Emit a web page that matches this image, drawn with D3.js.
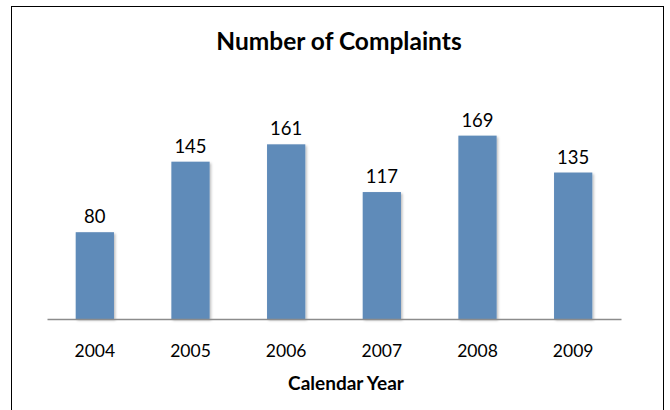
<!DOCTYPE html>
<html>
  <head>
    <script src="https://d3js.org/d3.v7.min.js"></script>
    <style>
      body { margin: 0; background: #fff; }
      text { font-family: Lato, Carlito, "Open Sans", sans-serif; fill: #000; }
    </style>
  </head>
  <body>
    <script>

      // chart data
      var years = ["2004", "2005", "2006", "2007", "2008", "2009"];
      var complaints = [80, 145, 161, 117, 169, 135];

      var W = 670, H = 410;
      var margin = {top: 102, right: 49, bottom: 91, left: 47};
      var w = W - margin.left - margin.right;
      var h = H - margin.top - margin.bottom;

      var svg = d3.select("body")
        .append("svg")
        .attr("width", W)
        .attr("height", H);

      // outer frame
      svg.append("rect")
        .attr("x", 11.5)
        .attr("y", 6.5)
        .attr("width", 652)
        .attr("height", 420)
        .attr("fill", "none")
        .attr("stroke", "#000")
        .attr("stroke-width", 1);

      var g = svg.append("g")
        .attr("transform", `translate(${margin.left},${margin.top})`);

      var x = d3.scaleBand()
        .domain(years)
        .range([0, w])
        .paddingInner(0.6)
        .paddingOuter(0.3);

      var y = d3.scaleLinear()
        .domain([0, 200])
        .range([h, 0]);

      var defs = svg.append("defs");
      var f = defs.append("filter").attr("id", "shadow")
        .attr("x", "-20%").attr("y", "-10%").attr("width", "150%").attr("height", "130%");
      f.append("feDropShadow")
        .attr("dx", 1.5).attr("dy", 1.5).attr("stdDeviation", 1.2)
        .attr("flood-color", "#000").attr("flood-opacity", 0.25);

      g.selectAll("rect.bar")
        .data(complaints)
        .enter()
        .append("rect")
        .attr("class", "bar")
        .attr("x", function(d, i) { return x(years[i]); })
        .attr("y", function(d) { return y(d); })
        .attr("width", x.bandwidth())
        .attr("height", function(d) { return h - y(d); })
        .attr("fill", "#5f8bb9")
        .attr("filter", "url(#shadow)");

      // value labels
      g.selectAll("text.val")
        .data(complaints)
        .enter()
        .append("text")
        .attr("class", "val")
        .attr("x", function(d, i) { return x(years[i]) + x.bandwidth() / 2; })
        .attr("y", function(d) { return y(d) - 9; })
        .attr("text-anchor", "middle")
        .style("font-size", "18.5px")
        .text(function(d) { return d; });

      // x axis
      var xAxis = d3.axisBottom(x).tickSize(0).tickPadding(26);
      var xAxisG = g.append("g")
        .attr("transform", `translate(0,${h})`)
        .call(xAxis);
      xAxisG.select(".domain").attr("stroke", "#8c8c8c").attr("stroke-width", 1.5);
      xAxisG.selectAll("text").style("font-size", "17.5px").style("font-family", null);

      // titles
      svg.append("text")
        .attr("x", 339)
        .attr("y", 50)
        .attr("text-anchor", "middle")
        .style("font-size", "24.5px")
        .style("font-weight", "bold")
        .text("Number of Complaints");

      svg.append("text")
        .attr("x", 346)
        .attr("y", 390)
        .attr("text-anchor", "middle")
        .style("font-size", "19px")
        .style("font-weight", "bold")
        .text("Calendar Year");

    </script>
  </body>
</html>
